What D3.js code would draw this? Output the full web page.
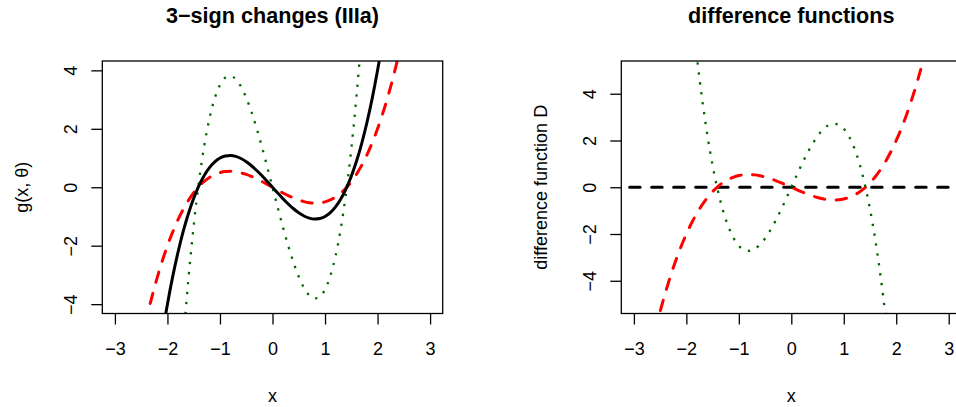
<!DOCTYPE html>
<html>
<head>
<meta charset="utf-8">
<script src="https://cdn.jsdelivr.net/npm/d3@7"></script>
<style>
  html, body { margin: 0; padding: 0; background: #fff; }
  svg { display: block; font-family: "Liberation Sans", Arial, Helvetica, sans-serif; }
</style>
</head>
<body>
<svg id="chart" width="956" height="407"></svg>
<script>
// ---- data ----
const xVals = [-2.6,-2.5,-2.4,-2.3,-2.2,-2.1,-2.0,-1.9,-1.8,-1.7,-1.6,-1.5,-1.4,-1.3,-1.2,-1.1,-1.0,-0.9,-0.8,-0.7,-0.6,-0.5,-0.4,-0.3,-0.2,-0.1,0,
  0.1,0.2,0.3,0.4,0.5,0.6,0.7,0.8,0.9,1.0,1.1,1.2,1.3,1.4,1.5,1.6,1.7,1.8,1.9,2.0,2.1,2.2,2.3,2.4,2.5,2.6];

// left panel: g(x, theta) for three parameter values
const gBlack = [-12.376,-10.625,-9.024,-7.567,-6.248,-5.061,-4.000,-3.059,-2.232,-1.513,-0.896,-0.375,0.056,0.403,0.672,0.869,1.000,1.071,1.088,1.057,0.984,0.875,0.736,0.573,0.392,0.199,0,
  -0.199,-0.392,-0.573,-0.736,-0.875,-0.984,-1.057,-1.088,-1.071,-1.000,-0.869,-0.672,-0.403,-0.056,0.375,0.896,1.513,2.232,3.059,4.000,5.061,6.248,7.567,9.024,10.625,12.376];
const gRed = [-6.188,-5.313,-4.512,-3.784,-3.124,-2.531,-2.000,-1.530,-1.116,-0.757,-0.448,-0.188,0.028,0.202,0.336,0.435,0.500,0.536,0.544,0.529,0.492,0.438,0.368,0.287,0.196,0.100,0,
  -0.100,-0.196,-0.287,-0.368,-0.438,-0.492,-0.529,-0.544,-0.536,-0.500,-0.435,-0.336,-0.202,-0.028,0.188,0.448,0.757,1.116,1.530,2.000,2.531,3.124,3.784,4.512,5.313,6.188];
const gGreen = [-43.316,-37.188,-31.584,-26.485,-21.868,-17.714,-14.000,-10.707,-7.812,-5.296,-3.136,-1.313,0.196,1.411,2.352,3.042,3.500,3.749,3.808,3.700,3.444,3.063,2.576,2.006,1.372,0.697,0,
  -0.697,-1.372,-2.006,-2.576,-3.063,-3.444,-3.700,-3.808,-3.749,-3.500,-3.042,-2.352,-1.411,-0.196,1.313,3.136,5.296,7.812,10.707,14.000,17.714,21.868,26.485,31.584,37.188,43.316];

// right panel: difference functions D
const zeroX = [-3.5, 3.5];
const dBlack = [0, 0];
const dRed = gRed;
const dGreen = [30.940,26.563,22.560,18.918,15.620,12.653,10.000,7.648,5.580,3.783,2.240,0.938,-0.140,-1.008,-1.680,-2.173,-2.500,-2.678,-2.720,-2.643,-2.460,-2.188,-1.840,-1.433,-0.980,-0.498,0,
  0.498,0.980,1.433,1.840,2.188,2.460,2.643,2.720,2.678,2.500,2.173,1.680,1.008,0.140,-0.938,-2.240,-3.783,-5.580,-7.648,-10.000,-12.653,-15.620,-18.918,-22.560,-26.563,-30.940];

const xTicks = [-3,-2,-1,0,1,2,3];
const yTicks = [-4,-2,0,2,4];
const titles = ["3\u2212sign changes (IIIa)", "difference functions"];
const xLabel = "x";
const yLabels = ["g(x, \u03b8)", "difference function D"];

// ---- drawing ----
const svg = d3.select("#chart");
const fmt = d3.format("");

const panels = [
  { x0: 102.3, x1: 442.7, yDom: [-4.32, 4.32], title: titles[0], ylab: yLabels[0],
    series: [
      { xs: xVals, ys: gGreen, color: "#006400", width: 2.3, dash: "2.3,7.7", cap: "butt" },
      { xs: xVals, ys: gRed, color: "#ff0000", width: 3, dash: "10.5,11.5", cap: "round" },
      { xs: xVals, ys: gBlack, color: "#000000", width: 3, dash: null, cap: "round" }
    ] },
  { x0: 621.3, x1: 961.3, yDom: [-5.4, 5.4], title: titles[1], ylab: yLabels[1],
    series: [
      { xs: zeroX, ys: dBlack, color: "#000000", width: 3, dash: "10.5,11.5", cap: "round" },
      { xs: xVals, ys: dRed, color: "#ff0000", width: 3, dash: "10.5,11.5", cap: "round" },
      { xs: xVals, ys: dGreen, color: "#006400", width: 2.3, dash: "2.3,7.7", cap: "butt" }
    ] }
];

const yTop = 61, yBot = 313.5;

panels.forEach((p, i) => {
  const x = d3.scaleLinear().domain([-3.24, 3.24]).range([p.x0, p.x1]);
  const y = d3.scaleLinear().domain(p.yDom).range([yBot, yTop]);
  const cx = (p.x0 + p.x1) / 2;
  const cy = (yTop + yBot) / 2;

  const clipId = "clip" + i;
  svg.append("clipPath").attr("id", clipId)
    .append("rect").attr("x", p.x0).attr("y", yTop)
    .attr("width", p.x1 - p.x0).attr("height", yBot - yTop);

  const g = svg.append("g").attr("clip-path", `url(#${clipId})`);
  p.series.forEach(s => {
    const pts = s.xs.map((xv, k) => [xv, s.ys[k]]);
    const line = d3.line().x(d => x(d[0])).y(d => y(d[1])).curve(d3.curveMonotoneX);
    g.append("path").datum(pts)
      .attr("d", line)
      .attr("fill", "none")
      .attr("stroke", s.color)
      .attr("stroke-width", s.width)
      .attr("stroke-linecap", s.cap)
      .attr("stroke-linejoin", "round")
      .attr("stroke-dasharray", s.dash);
  });

  // box
  svg.append("rect")
    .attr("x", p.x0).attr("y", yTop)
    .attr("width", p.x1 - p.x0).attr("height", yBot - yTop)
    .attr("fill", "none").attr("stroke", "#000").attr("stroke-width", 1.3);

  // x axis
  const xa = svg.append("g").attr("transform", `translate(0,${yBot})`)
    .call(d3.axisBottom(x).tickValues(xTicks).tickFormat(fmt).tickSize(11).tickSizeOuter(0).tickPadding(17.5));
  xa.select(".domain").remove();
  xa.selectAll(".tick line").attr("stroke", "#000").attr("stroke-width", 1.3);
  xa.selectAll(".tick text").attr("font-size", 18).attr("fill", "#000")
    .attr("font-family", "Liberation Sans, Arial, sans-serif");

  // y axis
  const ya = svg.append("g").attr("transform", `translate(${p.x0},0)`)
    .call(d3.axisLeft(y).tickValues(yTicks).tickFormat(fmt).tickSize(11).tickSizeOuter(0));
  ya.select(".domain").remove();
  ya.selectAll(".tick line").attr("stroke", "#000").attr("stroke-width", 1.3);
  ya.selectAll(".tick text")
    .attr("x", null).attr("dy", null)
    .attr("text-anchor", "middle")
    .attr("transform", "translate(-25,0) rotate(-90)")
    .attr("font-size", 18).attr("fill", "#000")
    .attr("font-family", "Liberation Sans, Arial, sans-serif");

  // titles and labels
  svg.append("text").attr("x", cx).attr("y", 23)
    .attr("text-anchor", "middle").attr("font-size", 21.6).attr("font-weight", "bold")
    .text(p.title);
  svg.append("text").attr("x", cx).attr("y", 402)
    .attr("text-anchor", "middle").attr("font-size", 18)
    .text(xLabel);
  svg.append("text")
    .attr("transform", `translate(${p.x0 - 74},${cy}) rotate(-90)`)
    .attr("text-anchor", "middle").attr("font-size", 18)
    .text(p.ylab);
});
</script>
</body>
</html>
